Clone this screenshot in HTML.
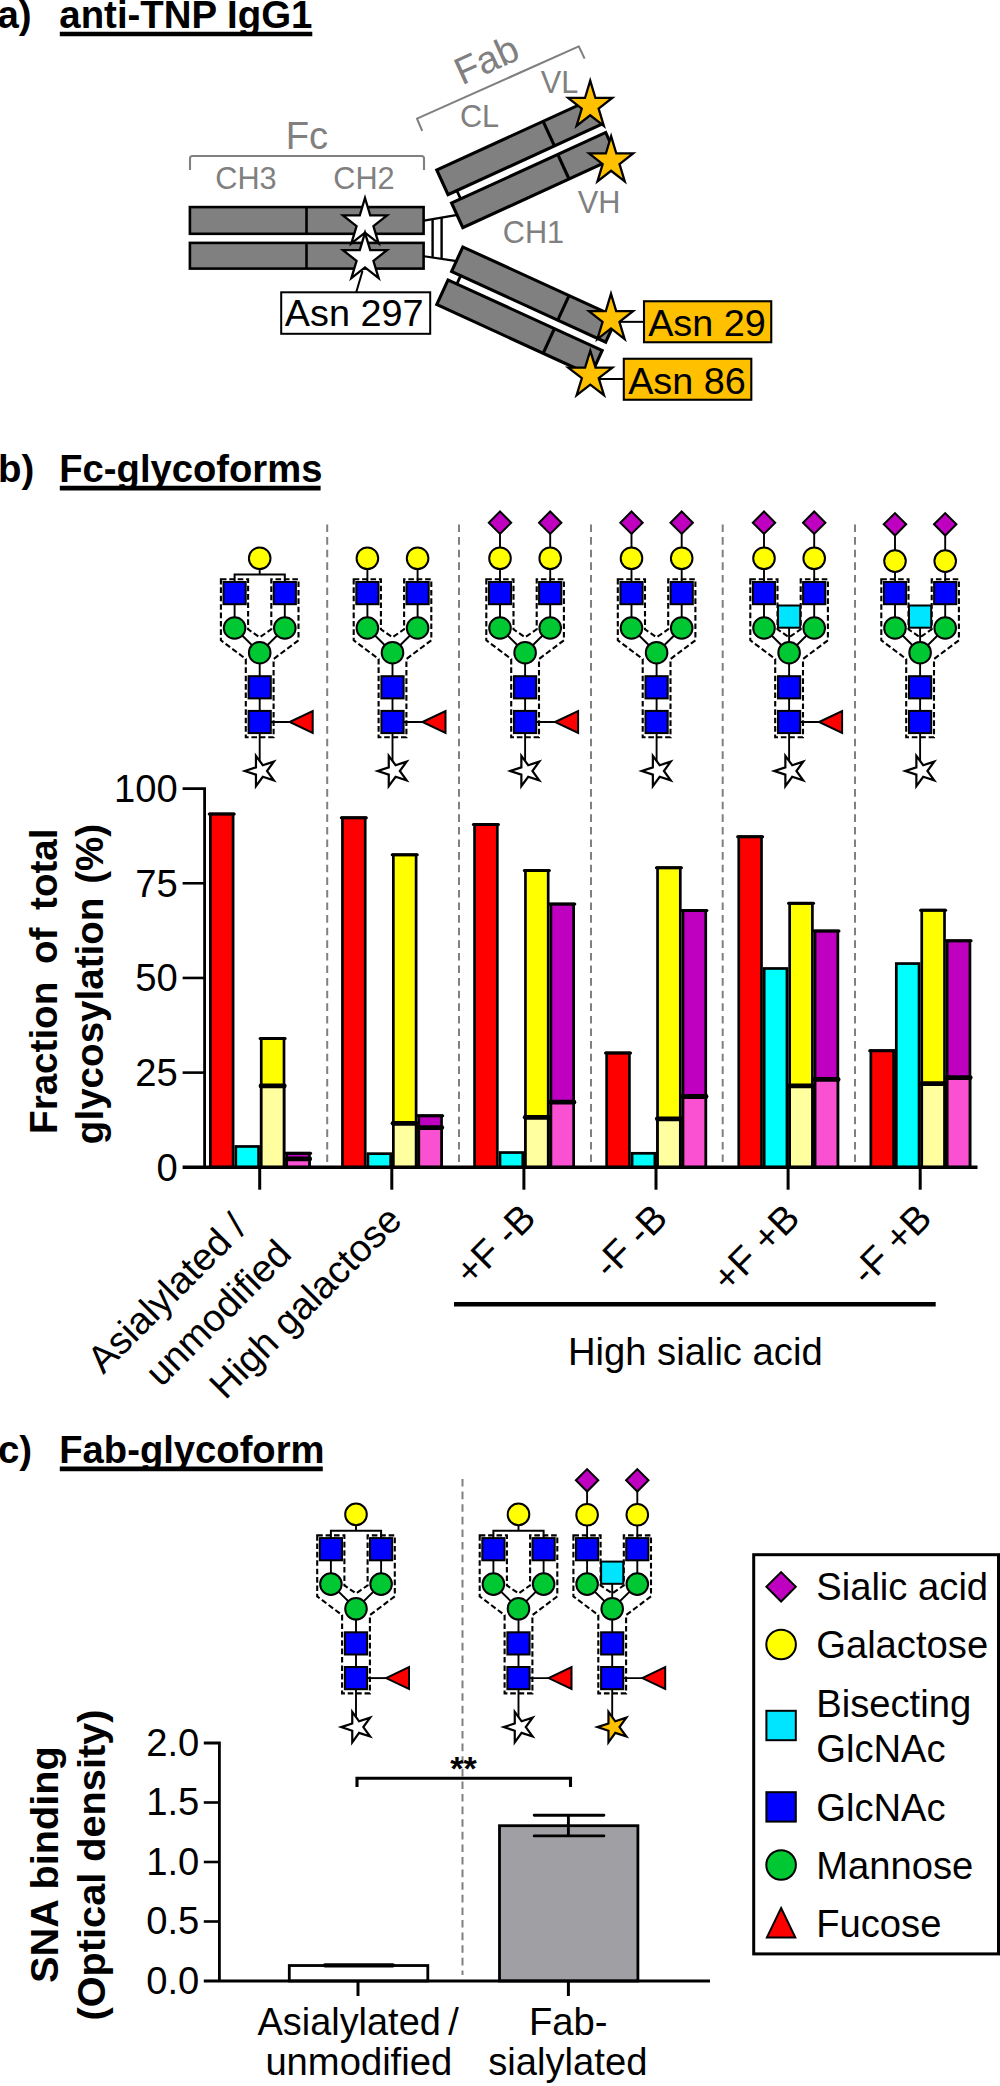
<!DOCTYPE html>
<html lang="en"><head><meta charset="utf-8"><title>IgG glycoforms</title>
<style>html,body{margin:0;padding:0;background:#fff}body{width:1000px;height:2086px;overflow:hidden}svg{display:block;font-family:"Liberation Sans", sans-serif}text{white-space:pre}</style></head><body>
<svg width="1000" height="2086" viewBox="0 0 1000 2086" role="img" aria-label="IgG glycoform figure">
<rect x="0" y="0" width="1000" height="2086" fill="#fff"/>
<g id="panel-a">
<text x="-2.5" y="28.1" font-size="38.4" text-anchor="start" font-weight="bold" fill="#000">a)</text>
<text x="59.3" y="28.1" font-size="38.4" text-anchor="start" font-weight="bold" fill="#000">anti-TNP IgG1</text>
<line x1="59.8" y1="34" x2="312.3" y2="34" stroke="#000" stroke-width="4.4"/>
<path d="M190,170 V158.5 Q190,156 192.5,156 H421.5 Q424,156 424,158.5 V170" fill="none" stroke="#808080" stroke-width="2.1"/>
<text x="307" y="149" font-size="38.2" text-anchor="middle" font-weight="normal" fill="#808080">Fc</text>
<text x="246" y="188.5" font-size="30.7" text-anchor="middle" font-weight="normal" fill="#808080">CH3</text>
<text x="364" y="188.5" font-size="30.7" text-anchor="middle" font-weight="normal" fill="#808080">CH2</text>
<g stroke="#000" fill="none">
<line x1="424" y1="220.6" x2="456" y2="215.1" stroke-width="2.1"/>
<line x1="424" y1="256.2" x2="455" y2="260.9" stroke-width="2.1"/>
<line x1="432.6" y1="219.5" x2="432.6" y2="257.3" stroke-width="2.4"/>
<line x1="441.6" y1="218" x2="441.6" y2="258.7" stroke-width="2.4"/>
</g>
<g fill="#808080" stroke="#000" stroke-width="2.6">
<rect x="189.9" y="207.1" width="233.7" height="26.7"/>
<rect x="189.9" y="242.9" width="233.7" height="25.7"/>
<line x1="306.5" y1="207.1" x2="306.5" y2="233.8"/>
<line x1="306.5" y1="242.9" x2="306.5" y2="268.6"/>
</g>
<g transform="translate(436.76,170) rotate(-24.6)">
<line x1="9.7" y1="27" x2="9.7" y2="36.3" stroke="#000" stroke-width="2.8"/>
<g fill="#808080" stroke="#000" stroke-width="3.1">
<rect x="0" y="0" width="169.5" height="27.1"/>
<line x1="117" y1="0" x2="117" y2="27.1"/>
<rect x="-0.3" y="36.25" width="169.5" height="27"/>
<line x1="116.5" y1="36.25" x2="116.5" y2="63.25"/>
</g>
</g>
<g transform="translate(0,474.6) scale(1,-1)"><g transform="translate(436.76,170) rotate(-24.6)">
<line x1="9.7" y1="27" x2="9.7" y2="36.3" stroke="#000" stroke-width="2.8"/>
<g fill="#808080" stroke="#000" stroke-width="3.1">
<rect x="0" y="0" width="169.5" height="27.1"/>
<line x1="117" y1="0" x2="117" y2="27.1"/>
<rect x="-0.3" y="36.25" width="169.5" height="27"/>
<line x1="116.5" y1="36.25" x2="116.5" y2="63.25"/>
</g>
</g></g>
<path d="M422.2,130.8 L417,118.6 L578.8,46.4 L584.6,58.6" fill="none" stroke="#808080" stroke-width="2.1" stroke-linejoin="round"/>
<text transform="translate(491.8,71.8) rotate(-24.6)" font-size="38.2" text-anchor="middle" fill="#808080">Fab</text>
<text x="479.5" y="126.5" font-size="30.7" text-anchor="middle" font-weight="normal" fill="#808080">CL</text>
<text x="559.5" y="93" font-size="30.7" text-anchor="middle" font-weight="normal" fill="#808080">VL</text>
<text x="599" y="213" font-size="30.7" text-anchor="middle" font-weight="normal" fill="#808080">VH</text>
<text x="533.5" y="242.5" font-size="30.7" text-anchor="middle" font-weight="normal" fill="#808080">CH1</text>
<line x1="362.5" y1="271" x2="356" y2="293" stroke="#000" stroke-width="2"/>
<rect x="281.2" y="292.3" width="149" height="41.5" fill="#fff" stroke="#000" stroke-width="2"/>
<text x="354.2" y="326.2" font-size="37.8" text-anchor="middle" font-weight="normal" fill="#000">Asn 297</text>
<polygon points="365,198.04 370.21,215.36 387.06,215.36 373.43,226.06 378.64,243.37 365,232.67 351.36,243.37 356.57,226.06 342.94,215.36 359.79,215.36" fill="#fff" stroke="#000" stroke-width="2.3" stroke-linejoin="miter" stroke-miterlimit="10"/>
<polygon points="365,232.84 370.21,250.16 387.06,250.16 373.43,260.86 378.64,278.17 365,267.47 351.36,278.17 356.57,260.86 342.94,250.16 359.79,250.16" fill="#fff" stroke="#000" stroke-width="2.3" stroke-linejoin="miter" stroke-miterlimit="10"/>
<line x1="618" y1="321.85" x2="644" y2="321.85" stroke="#000" stroke-width="2"/>
<line x1="598" y1="379" x2="624" y2="379" stroke="#000" stroke-width="2"/>
<rect x="644" y="301.25" width="127.25" height="41" fill="#FFC000" stroke="#000" stroke-width="2.1"/>
<rect x="623.8" y="358.75" width="127.5" height="41" fill="#FFC000" stroke="#000" stroke-width="2.1"/>
<text x="707" y="336.4" font-size="37.8" text-anchor="middle" font-weight="normal" fill="#000">Asn 29</text>
<text x="687" y="393.9" font-size="37.8" text-anchor="middle" font-weight="normal" fill="#000">Asn 86</text>
<polygon points="590.2,80.64 595.41,97.96 612.26,97.96 598.63,108.66 603.84,125.97 590.2,115.27 576.56,125.97 581.77,108.66 568.14,97.96 584.99,97.96" fill="#FFC000" stroke="#000" stroke-width="2.3" stroke-linejoin="miter" stroke-miterlimit="10"/>
<polygon points="611.1,136.14 616.31,153.46 633.16,153.46 619.53,164.16 624.74,181.47 611.1,170.77 597.46,181.47 602.67,164.16 589.04,153.46 605.89,153.46" fill="#FFC000" stroke="#000" stroke-width="2.3" stroke-linejoin="miter" stroke-miterlimit="10"/>
<polygon points="611,293.84 616.21,311.16 633.06,311.16 619.43,321.86 624.64,339.17 611,328.47 597.36,339.17 602.57,321.86 588.94,311.16 605.79,311.16" fill="#FFC000" stroke="#000" stroke-width="2.3" stroke-linejoin="miter" stroke-miterlimit="10"/>
<polygon points="590.3,350.61 595.51,367.6 612.36,367.6 598.73,378.1 603.94,395.1 590.3,384.59 576.66,395.1 581.87,378.1 568.24,367.6 585.09,367.6" fill="#FFC000" stroke="#000" stroke-width="2.3" stroke-linejoin="miter" stroke-miterlimit="10"/>
</g>
<g id="panel-b">
<text x="-2" y="482" font-size="38.4" text-anchor="start" font-weight="bold" fill="#000">b)</text>
<text x="59.3" y="482" font-size="38.2" text-anchor="start" font-weight="bold" fill="#000">Fc-glycoforms</text>
<line x1="59.8" y1="488.1" x2="320.6" y2="488.1" stroke="#000" stroke-width="4.6"/>
<line x1="327.2" y1="524.5" x2="327.2" y2="1162" stroke="#808080" stroke-width="2" stroke-dasharray="7.6 5"/>
<line x1="459" y1="524.5" x2="459" y2="1162" stroke="#808080" stroke-width="2" stroke-dasharray="7.6 5"/>
<line x1="591" y1="524.5" x2="591" y2="1162" stroke="#808080" stroke-width="2" stroke-dasharray="7.6 5"/>
<line x1="722.7" y1="524.5" x2="722.7" y2="1162" stroke="#808080" stroke-width="2" stroke-dasharray="7.6 5"/>
<line x1="855" y1="524.5" x2="855" y2="1162" stroke="#808080" stroke-width="2" stroke-dasharray="7.6 5"/>
<g>
<path d="M220.9,579.3 H248.1 V629.3 L259.7,637.3 L271.3,629.3 V579.3 H298.5 V640.3 L273.6,659 V737.3 H245.8 V659 L220.9,640.3 Z" fill="none" stroke="#000" stroke-width="2.1" stroke-dasharray="5.6 2.8"/>
<line x1="259.7" y1="558.3" x2="259.7" y2="574.6" stroke="#000" stroke-width="1.9"/>
<path d="M234.6,593.1 V574.6 H284.8 V593.1" fill="none" stroke="#000" stroke-width="2"/>
<line x1="234.6" y1="593.1" x2="234.6" y2="628" stroke="#000" stroke-width="1.9"/>
<line x1="284.8" y1="593.1" x2="284.8" y2="628" stroke="#000" stroke-width="1.9"/>
<line x1="234.6" y1="628" x2="259.7" y2="652.7" stroke="#000" stroke-width="1.9"/>
<line x1="284.8" y1="628" x2="259.7" y2="652.7" stroke="#000" stroke-width="1.9"/>
<line x1="259.7" y1="652.7" x2="259.7" y2="763.8" stroke="#000" stroke-width="1.9"/>
<line x1="259.7" y1="722" x2="291.7" y2="722" stroke="#000" stroke-width="1.9"/>
<circle cx="259.7" cy="558.3" r="10.8" fill="#FFFF00" stroke="#000" stroke-width="2"/>
<rect x="223.5" y="582" width="22.2" height="22.2" fill="#0000FF" stroke="#000" stroke-width="2"/>
<rect x="273.7" y="582" width="22.2" height="22.2" fill="#0000FF" stroke="#000" stroke-width="2"/>
<circle cx="234.6" cy="628" r="10.8" fill="#00C832" stroke="#000" stroke-width="2"/>
<circle cx="284.8" cy="628" r="10.8" fill="#00C832" stroke="#000" stroke-width="2"/>
<circle cx="259.7" cy="652.7" r="10.8" fill="#00C832" stroke="#000" stroke-width="2"/>
<rect x="248.6" y="676.2" width="22.2" height="22.2" fill="#0000FF" stroke="#000" stroke-width="2"/>
<rect x="248.6" y="710.9" width="22.2" height="22.2" fill="#0000FF" stroke="#000" stroke-width="2"/>
<polygon points="289.7,722 312.7,711.1 312.7,732.9" fill="#FF0000" stroke="#000" stroke-width="2"/>
<polygon points="255.96,755.78 262.79,765.19 273.84,761.6 267.01,771 273.84,780.4 262.79,776.81 255.96,786.22 255.96,774.59 244.9,771 255.96,767.41" fill="#fff" stroke="#000" stroke-width="2.2" stroke-linejoin="miter" stroke-miterlimit="10"/>
</g>
<g>
<path d="M353.7,579.3 H380.9 V629.3 L392.5,637.3 L404.1,629.3 V579.3 H431.3 V640.3 L406.4,659 V737.3 H378.6 V659 L353.7,640.3 Z" fill="none" stroke="#000" stroke-width="2.1" stroke-dasharray="5.6 2.8"/>
<line x1="367.4" y1="558.3" x2="367.4" y2="628" stroke="#000" stroke-width="1.9"/>
<line x1="417.6" y1="558.3" x2="417.6" y2="628" stroke="#000" stroke-width="1.9"/>
<line x1="367.4" y1="628" x2="392.5" y2="652.7" stroke="#000" stroke-width="1.9"/>
<line x1="417.6" y1="628" x2="392.5" y2="652.7" stroke="#000" stroke-width="1.9"/>
<line x1="392.5" y1="652.7" x2="392.5" y2="763.8" stroke="#000" stroke-width="1.9"/>
<line x1="392.5" y1="722" x2="424.5" y2="722" stroke="#000" stroke-width="1.9"/>
<circle cx="367.4" cy="558.3" r="10.8" fill="#FFFF00" stroke="#000" stroke-width="2"/>
<circle cx="417.6" cy="558.3" r="10.8" fill="#FFFF00" stroke="#000" stroke-width="2"/>
<rect x="356.3" y="582" width="22.2" height="22.2" fill="#0000FF" stroke="#000" stroke-width="2"/>
<rect x="406.5" y="582" width="22.2" height="22.2" fill="#0000FF" stroke="#000" stroke-width="2"/>
<circle cx="367.4" cy="628" r="10.8" fill="#00C832" stroke="#000" stroke-width="2"/>
<circle cx="417.6" cy="628" r="10.8" fill="#00C832" stroke="#000" stroke-width="2"/>
<circle cx="392.5" cy="652.7" r="10.8" fill="#00C832" stroke="#000" stroke-width="2"/>
<rect x="381.4" y="676.2" width="22.2" height="22.2" fill="#0000FF" stroke="#000" stroke-width="2"/>
<rect x="381.4" y="710.9" width="22.2" height="22.2" fill="#0000FF" stroke="#000" stroke-width="2"/>
<polygon points="422.5,722 445.5,711.1 445.5,732.9" fill="#FF0000" stroke="#000" stroke-width="2"/>
<polygon points="388.76,755.78 395.59,765.19 406.64,761.6 399.81,771 406.64,780.4 395.59,776.81 388.76,786.22 388.76,774.59 377.7,771 388.76,767.41" fill="#fff" stroke="#000" stroke-width="2.2" stroke-linejoin="miter" stroke-miterlimit="10"/>
</g>
<g>
<path d="M486.3,579.3 H513.5 V629.3 L525.1,637.3 L536.7,629.3 V579.3 H563.9 V640.3 L539,659 V737.3 H511.2 V659 L486.3,640.3 Z" fill="none" stroke="#000" stroke-width="2.1" stroke-dasharray="5.6 2.8"/>
<line x1="500" y1="522.7" x2="500" y2="628" stroke="#000" stroke-width="1.9"/>
<line x1="550.2" y1="522.7" x2="550.2" y2="628" stroke="#000" stroke-width="1.9"/>
<line x1="500" y1="628" x2="525.1" y2="652.7" stroke="#000" stroke-width="1.9"/>
<line x1="550.2" y1="628" x2="525.1" y2="652.7" stroke="#000" stroke-width="1.9"/>
<line x1="525.1" y1="652.7" x2="525.1" y2="763.8" stroke="#000" stroke-width="1.9"/>
<line x1="525.1" y1="722" x2="557.1" y2="722" stroke="#000" stroke-width="1.9"/>
<polygon points="500,511.5 511.2,522.7 500,533.9 488.8,522.7" fill="#C000C0" stroke="#000" stroke-width="2"/>
<polygon points="550.2,511.5 561.4,522.7 550.2,533.9 539,522.7" fill="#C000C0" stroke="#000" stroke-width="2"/>
<circle cx="500" cy="558.3" r="10.8" fill="#FFFF00" stroke="#000" stroke-width="2"/>
<circle cx="550.2" cy="558.3" r="10.8" fill="#FFFF00" stroke="#000" stroke-width="2"/>
<rect x="488.9" y="582" width="22.2" height="22.2" fill="#0000FF" stroke="#000" stroke-width="2"/>
<rect x="539.1" y="582" width="22.2" height="22.2" fill="#0000FF" stroke="#000" stroke-width="2"/>
<circle cx="500" cy="628" r="10.8" fill="#00C832" stroke="#000" stroke-width="2"/>
<circle cx="550.2" cy="628" r="10.8" fill="#00C832" stroke="#000" stroke-width="2"/>
<circle cx="525.1" cy="652.7" r="10.8" fill="#00C832" stroke="#000" stroke-width="2"/>
<rect x="514" y="676.2" width="22.2" height="22.2" fill="#0000FF" stroke="#000" stroke-width="2"/>
<rect x="514" y="710.9" width="22.2" height="22.2" fill="#0000FF" stroke="#000" stroke-width="2"/>
<polygon points="555.1,722 578.1,711.1 578.1,732.9" fill="#FF0000" stroke="#000" stroke-width="2"/>
<polygon points="521.36,755.78 528.19,765.19 539.24,761.6 532.41,771 539.24,780.4 528.19,776.81 521.36,786.22 521.36,774.59 510.3,771 521.36,767.41" fill="#fff" stroke="#000" stroke-width="2.2" stroke-linejoin="miter" stroke-miterlimit="10"/>
</g>
<g>
<path d="M617.8,579.3 H645 V629.3 L656.6,637.3 L668.2,629.3 V579.3 H695.4 V640.3 L670.5,659 V737.3 H642.7 V659 L617.8,640.3 Z" fill="none" stroke="#000" stroke-width="2.1" stroke-dasharray="5.6 2.8"/>
<line x1="631.5" y1="522.7" x2="631.5" y2="628" stroke="#000" stroke-width="1.9"/>
<line x1="681.7" y1="522.7" x2="681.7" y2="628" stroke="#000" stroke-width="1.9"/>
<line x1="631.5" y1="628" x2="656.6" y2="652.7" stroke="#000" stroke-width="1.9"/>
<line x1="681.7" y1="628" x2="656.6" y2="652.7" stroke="#000" stroke-width="1.9"/>
<line x1="656.6" y1="652.7" x2="656.6" y2="763.8" stroke="#000" stroke-width="1.9"/>
<polygon points="631.5,511.5 642.7,522.7 631.5,533.9 620.3,522.7" fill="#C000C0" stroke="#000" stroke-width="2"/>
<polygon points="681.7,511.5 692.9,522.7 681.7,533.9 670.5,522.7" fill="#C000C0" stroke="#000" stroke-width="2"/>
<circle cx="631.5" cy="558.3" r="10.8" fill="#FFFF00" stroke="#000" stroke-width="2"/>
<circle cx="681.7" cy="558.3" r="10.8" fill="#FFFF00" stroke="#000" stroke-width="2"/>
<rect x="620.4" y="582" width="22.2" height="22.2" fill="#0000FF" stroke="#000" stroke-width="2"/>
<rect x="670.6" y="582" width="22.2" height="22.2" fill="#0000FF" stroke="#000" stroke-width="2"/>
<circle cx="631.5" cy="628" r="10.8" fill="#00C832" stroke="#000" stroke-width="2"/>
<circle cx="681.7" cy="628" r="10.8" fill="#00C832" stroke="#000" stroke-width="2"/>
<circle cx="656.6" cy="652.7" r="10.8" fill="#00C832" stroke="#000" stroke-width="2"/>
<rect x="645.5" y="676.2" width="22.2" height="22.2" fill="#0000FF" stroke="#000" stroke-width="2"/>
<rect x="645.5" y="710.9" width="22.2" height="22.2" fill="#0000FF" stroke="#000" stroke-width="2"/>
<polygon points="652.86,755.78 659.69,765.19 670.74,761.6 663.91,771 670.74,780.4 659.69,776.81 652.86,786.22 652.86,774.59 641.8,771 652.86,767.41" fill="#fff" stroke="#000" stroke-width="2.2" stroke-linejoin="miter" stroke-miterlimit="10"/>
</g>
<g>
<path d="M750.3,579.3 H777.5 V629.3 L789.1,637.3 L800.7,629.3 V579.3 H827.9 V640.3 L803,659 V737.3 H775.2 V659 L750.3,640.3 Z" fill="none" stroke="#000" stroke-width="2.1" stroke-dasharray="5.6 2.8"/>
<line x1="764" y1="522.7" x2="764" y2="628" stroke="#000" stroke-width="1.9"/>
<line x1="814.2" y1="522.7" x2="814.2" y2="628" stroke="#000" stroke-width="1.9"/>
<line x1="764" y1="628" x2="789.1" y2="652.7" stroke="#000" stroke-width="1.9"/>
<line x1="814.2" y1="628" x2="789.1" y2="652.7" stroke="#000" stroke-width="1.9"/>
<line x1="789.1" y1="616.6" x2="789.1" y2="652.7" stroke="#000" stroke-width="1.9"/>
<line x1="789.1" y1="652.7" x2="789.1" y2="763.8" stroke="#000" stroke-width="1.9"/>
<line x1="789.1" y1="722" x2="821.1" y2="722" stroke="#000" stroke-width="1.9"/>
<polygon points="764,511.5 775.2,522.7 764,533.9 752.8,522.7" fill="#C000C0" stroke="#000" stroke-width="2"/>
<polygon points="814.2,511.5 825.4,522.7 814.2,533.9 803,522.7" fill="#C000C0" stroke="#000" stroke-width="2"/>
<circle cx="764" cy="558.3" r="10.8" fill="#FFFF00" stroke="#000" stroke-width="2"/>
<circle cx="814.2" cy="558.3" r="10.8" fill="#FFFF00" stroke="#000" stroke-width="2"/>
<rect x="752.9" y="582" width="22.2" height="22.2" fill="#0000FF" stroke="#000" stroke-width="2"/>
<rect x="803.1" y="582" width="22.2" height="22.2" fill="#0000FF" stroke="#000" stroke-width="2"/>
<circle cx="764" cy="628" r="10.8" fill="#00C832" stroke="#000" stroke-width="2"/>
<circle cx="814.2" cy="628" r="10.8" fill="#00C832" stroke="#000" stroke-width="2"/>
<rect x="778" y="605.5" width="22.2" height="22.2" fill="#00E5FF" stroke="#000" stroke-width="2"/>
<circle cx="789.1" cy="652.7" r="10.8" fill="#00C832" stroke="#000" stroke-width="2"/>
<rect x="778" y="676.2" width="22.2" height="22.2" fill="#0000FF" stroke="#000" stroke-width="2"/>
<rect x="778" y="710.9" width="22.2" height="22.2" fill="#0000FF" stroke="#000" stroke-width="2"/>
<polygon points="819.1,722 842.1,711.1 842.1,732.9" fill="#FF0000" stroke="#000" stroke-width="2"/>
<polygon points="785.36,755.78 792.19,765.19 803.24,761.6 796.41,771 803.24,780.4 792.19,776.81 785.36,786.22 785.36,774.59 774.3,771 785.36,767.41" fill="#fff" stroke="#000" stroke-width="2.2" stroke-linejoin="miter" stroke-miterlimit="10"/>
</g>
<g>
<path d="M881.3,579.3 H908.5 V629.3 L920.1,637.3 L931.7,629.3 V579.3 H958.9 V640.3 L934,659 V737.3 H906.2 V659 L881.3,640.3 Z" fill="none" stroke="#000" stroke-width="2.1" stroke-dasharray="5.6 2.8"/>
<line x1="895" y1="524.3" x2="895" y2="628" stroke="#000" stroke-width="1.9"/>
<line x1="945.2" y1="524.3" x2="945.2" y2="628" stroke="#000" stroke-width="1.9"/>
<line x1="895" y1="628" x2="920.1" y2="652.7" stroke="#000" stroke-width="1.9"/>
<line x1="945.2" y1="628" x2="920.1" y2="652.7" stroke="#000" stroke-width="1.9"/>
<line x1="920.1" y1="616.6" x2="920.1" y2="652.7" stroke="#000" stroke-width="1.9"/>
<line x1="920.1" y1="652.7" x2="920.1" y2="763.8" stroke="#000" stroke-width="1.9"/>
<polygon points="895,513.1 906.2,524.3 895,535.5 883.8,524.3" fill="#C000C0" stroke="#000" stroke-width="2"/>
<polygon points="945.2,513.1 956.4,524.3 945.2,535.5 934,524.3" fill="#C000C0" stroke="#000" stroke-width="2"/>
<circle cx="895" cy="561.1" r="10.8" fill="#FFFF00" stroke="#000" stroke-width="2"/>
<circle cx="945.2" cy="561.1" r="10.8" fill="#FFFF00" stroke="#000" stroke-width="2"/>
<rect x="883.9" y="582" width="22.2" height="22.2" fill="#0000FF" stroke="#000" stroke-width="2"/>
<rect x="934.1" y="582" width="22.2" height="22.2" fill="#0000FF" stroke="#000" stroke-width="2"/>
<circle cx="895" cy="628" r="10.8" fill="#00C832" stroke="#000" stroke-width="2"/>
<circle cx="945.2" cy="628" r="10.8" fill="#00C832" stroke="#000" stroke-width="2"/>
<rect x="909" y="605.5" width="22.2" height="22.2" fill="#00E5FF" stroke="#000" stroke-width="2"/>
<circle cx="920.1" cy="652.7" r="10.8" fill="#00C832" stroke="#000" stroke-width="2"/>
<rect x="909" y="676.2" width="22.2" height="22.2" fill="#0000FF" stroke="#000" stroke-width="2"/>
<rect x="909" y="710.9" width="22.2" height="22.2" fill="#0000FF" stroke="#000" stroke-width="2"/>
<polygon points="916.36,755.78 923.19,765.19 934.24,761.6 927.41,771 934.24,780.4 923.19,776.81 916.36,786.22 916.36,774.59 905.3,771 916.36,767.41" fill="#fff" stroke="#000" stroke-width="2.2" stroke-linejoin="miter" stroke-miterlimit="10"/>
</g>
<rect x="210.35" y="813.97" width="22.75" height="353.33" fill="#FF0000" stroke="#000" stroke-width="2.7"/>
<rect x="235.8" y="1146.47" width="22.75" height="20.83" fill="#00FFFF" stroke="#000" stroke-width="2.7"/>
<rect x="261.25" y="1038.54" width="22.75" height="128.76" fill="#FFFF00" stroke="#000" stroke-width="2.7"/>
<rect x="261.25" y="1085.88" width="22.75" height="81.42" fill="#FFFFA0" stroke="#000" stroke-width="2.7"/>
<rect x="286.7" y="1153.29" width="22.75" height="14.01" fill="#C000C0" stroke="#000" stroke-width="2.7"/>
<rect x="286.7" y="1158.97" width="22.75" height="8.33" fill="#FA50D2" stroke="#000" stroke-width="2.7"/>
<line x1="209.2" y1="813.97" x2="234.25" y2="813.97" stroke="#000" stroke-width="3" stroke-linecap="round"/>
<line x1="260.1" y1="1038.54" x2="285.15" y2="1038.54" stroke="#000" stroke-width="3" stroke-linecap="round"/>
<line x1="261" y1="1085.88" x2="284.25" y2="1085.88" stroke="#000" stroke-width="4.8" stroke-linecap="round"/>
<line x1="285.55" y1="1153.29" x2="310.6" y2="1153.29" stroke="#000" stroke-width="3" stroke-linecap="round"/>
<line x1="286.45" y1="1158.97" x2="309.7" y2="1158.97" stroke="#000" stroke-width="4.8" stroke-linecap="round"/>
<rect x="342.45" y="817.76" width="22.75" height="349.54" fill="#FF0000" stroke="#000" stroke-width="2.7"/>
<rect x="367.9" y="1153.67" width="22.75" height="13.63" fill="#00FFFF" stroke="#000" stroke-width="2.7"/>
<rect x="393.35" y="854.87" width="22.75" height="312.43" fill="#FFFF00" stroke="#000" stroke-width="2.7"/>
<rect x="393.35" y="1123.37" width="22.75" height="43.93" fill="#FFFFA0" stroke="#000" stroke-width="2.7"/>
<rect x="418.8" y="1115.8" width="22.75" height="51.5" fill="#C000C0" stroke="#000" stroke-width="2.7"/>
<rect x="418.8" y="1127.54" width="22.75" height="39.76" fill="#FA50D2" stroke="#000" stroke-width="2.7"/>
<line x1="341.3" y1="817.76" x2="366.35" y2="817.76" stroke="#000" stroke-width="3" stroke-linecap="round"/>
<line x1="392.2" y1="854.87" x2="417.25" y2="854.87" stroke="#000" stroke-width="3" stroke-linecap="round"/>
<line x1="393.1" y1="1123.37" x2="416.35" y2="1123.37" stroke="#000" stroke-width="4.8" stroke-linecap="round"/>
<line x1="417.65" y1="1115.8" x2="442.7" y2="1115.8" stroke="#000" stroke-width="3" stroke-linecap="round"/>
<line x1="418.55" y1="1127.54" x2="441.8" y2="1127.54" stroke="#000" stroke-width="4.8" stroke-linecap="round"/>
<rect x="474.55" y="824.58" width="22.75" height="342.72" fill="#FF0000" stroke="#000" stroke-width="2.7"/>
<rect x="500" y="1152.53" width="22.75" height="14.77" fill="#00FFFF" stroke="#000" stroke-width="2.7"/>
<rect x="525.45" y="870.4" width="22.75" height="296.9" fill="#FFFF00" stroke="#000" stroke-width="2.7"/>
<rect x="525.45" y="1117.31" width="22.75" height="49.99" fill="#FFFFA0" stroke="#000" stroke-width="2.7"/>
<rect x="550.9" y="904.1" width="22.75" height="263.2" fill="#C000C0" stroke="#000" stroke-width="2.7"/>
<rect x="550.9" y="1102.16" width="22.75" height="65.14" fill="#FA50D2" stroke="#000" stroke-width="2.7"/>
<line x1="473.4" y1="824.58" x2="498.45" y2="824.58" stroke="#000" stroke-width="3" stroke-linecap="round"/>
<line x1="524.3" y1="870.4" x2="549.35" y2="870.4" stroke="#000" stroke-width="3" stroke-linecap="round"/>
<line x1="525.2" y1="1117.31" x2="548.45" y2="1117.31" stroke="#000" stroke-width="4.8" stroke-linecap="round"/>
<line x1="549.75" y1="904.1" x2="574.8" y2="904.1" stroke="#000" stroke-width="3" stroke-linecap="round"/>
<line x1="550.65" y1="1102.16" x2="573.9" y2="1102.16" stroke="#000" stroke-width="4.8" stroke-linecap="round"/>
<rect x="606.65" y="1052.93" width="22.75" height="114.37" fill="#FF0000" stroke="#000" stroke-width="2.7"/>
<rect x="632.1" y="1153.29" width="22.75" height="14.01" fill="#00FFFF" stroke="#000" stroke-width="2.7"/>
<rect x="657.55" y="867.75" width="22.75" height="299.55" fill="#FFFF00" stroke="#000" stroke-width="2.7"/>
<rect x="657.55" y="1118.83" width="22.75" height="48.47" fill="#FFFFA0" stroke="#000" stroke-width="2.7"/>
<rect x="683" y="910.54" width="22.75" height="256.76" fill="#C000C0" stroke="#000" stroke-width="2.7"/>
<rect x="683" y="1096.48" width="22.75" height="70.82" fill="#FA50D2" stroke="#000" stroke-width="2.7"/>
<line x1="605.5" y1="1052.93" x2="630.55" y2="1052.93" stroke="#000" stroke-width="3" stroke-linecap="round"/>
<line x1="656.4" y1="867.75" x2="681.45" y2="867.75" stroke="#000" stroke-width="3" stroke-linecap="round"/>
<line x1="657.3" y1="1118.83" x2="680.55" y2="1118.83" stroke="#000" stroke-width="4.8" stroke-linecap="round"/>
<line x1="681.85" y1="910.54" x2="706.9" y2="910.54" stroke="#000" stroke-width="3" stroke-linecap="round"/>
<line x1="682.75" y1="1096.48" x2="706" y2="1096.48" stroke="#000" stroke-width="4.8" stroke-linecap="round"/>
<rect x="738.75" y="836.69" width="22.75" height="330.61" fill="#FF0000" stroke="#000" stroke-width="2.7"/>
<rect x="764.2" y="968.48" width="22.75" height="198.82" fill="#00FFFF" stroke="#000" stroke-width="2.7"/>
<rect x="789.65" y="903.35" width="22.75" height="263.95" fill="#FFFF00" stroke="#000" stroke-width="2.7"/>
<rect x="789.65" y="1085.88" width="22.75" height="81.42" fill="#FFFFA0" stroke="#000" stroke-width="2.7"/>
<rect x="815.1" y="930.99" width="22.75" height="236.31" fill="#C000C0" stroke="#000" stroke-width="2.7"/>
<rect x="815.1" y="1079.44" width="22.75" height="87.86" fill="#FA50D2" stroke="#000" stroke-width="2.7"/>
<line x1="737.6" y1="836.69" x2="762.65" y2="836.69" stroke="#000" stroke-width="3" stroke-linecap="round"/>
<line x1="788.5" y1="903.35" x2="813.55" y2="903.35" stroke="#000" stroke-width="3" stroke-linecap="round"/>
<line x1="789.4" y1="1085.88" x2="812.65" y2="1085.88" stroke="#000" stroke-width="4.8" stroke-linecap="round"/>
<line x1="813.95" y1="930.99" x2="839" y2="930.99" stroke="#000" stroke-width="3" stroke-linecap="round"/>
<line x1="814.85" y1="1079.44" x2="838.1" y2="1079.44" stroke="#000" stroke-width="4.8" stroke-linecap="round"/>
<rect x="870.85" y="1050.66" width="22.75" height="116.64" fill="#FF0000" stroke="#000" stroke-width="2.7"/>
<rect x="896.3" y="963.56" width="22.75" height="203.74" fill="#00FFFF" stroke="#000" stroke-width="2.7"/>
<rect x="921.75" y="910.16" width="22.75" height="257.14" fill="#FFFF00" stroke="#000" stroke-width="2.7"/>
<rect x="921.75" y="1083.61" width="22.75" height="83.69" fill="#FFFFA0" stroke="#000" stroke-width="2.7"/>
<rect x="947.2" y="940.84" width="22.75" height="226.46" fill="#C000C0" stroke="#000" stroke-width="2.7"/>
<rect x="947.2" y="1077.55" width="22.75" height="89.75" fill="#FA50D2" stroke="#000" stroke-width="2.7"/>
<line x1="869.7" y1="1050.66" x2="894.75" y2="1050.66" stroke="#000" stroke-width="3" stroke-linecap="round"/>
<line x1="920.6" y1="910.16" x2="945.65" y2="910.16" stroke="#000" stroke-width="3" stroke-linecap="round"/>
<line x1="921.5" y1="1083.61" x2="944.75" y2="1083.61" stroke="#000" stroke-width="4.8" stroke-linecap="round"/>
<line x1="946.05" y1="940.84" x2="971.1" y2="940.84" stroke="#000" stroke-width="3" stroke-linecap="round"/>
<line x1="946.95" y1="1077.55" x2="970.2" y2="1077.55" stroke="#000" stroke-width="4.8" stroke-linecap="round"/>
<g stroke="#000" fill="none">
<path d="M182.6,788.6 H204.6 V1167.3" stroke-width="2.8"/>
<line x1="182.6" y1="1167.3" x2="977.5" y2="1167.3" stroke-width="3.4"/>
<line x1="182.6" y1="1072.62" x2="204.6" y2="1072.62" stroke-width="2.6"/>
<line x1="182.6" y1="977.95" x2="204.6" y2="977.95" stroke-width="2.6"/>
<line x1="182.6" y1="883.27" x2="204.6" y2="883.27" stroke-width="2.6"/>
<line x1="259.7" y1="1167.3" x2="259.7" y2="1189.7" stroke-width="3"/>
<line x1="391.8" y1="1167.3" x2="391.8" y2="1189.7" stroke-width="3"/>
<line x1="523.9" y1="1167.3" x2="523.9" y2="1189.7" stroke-width="3"/>
<line x1="656" y1="1167.3" x2="656" y2="1189.7" stroke-width="3"/>
<line x1="788.1" y1="1167.3" x2="788.1" y2="1189.7" stroke-width="3"/>
<line x1="920.2" y1="1167.3" x2="920.2" y2="1189.7" stroke-width="3"/>
</g>
<text x="177.8" y="1180.6" font-size="38.2" text-anchor="end" font-weight="normal" fill="#000">0</text>
<text x="177.8" y="1085.92" font-size="38.2" text-anchor="end" font-weight="normal" fill="#000">25</text>
<text x="177.8" y="991.25" font-size="38.2" text-anchor="end" font-weight="normal" fill="#000">50</text>
<text x="177.8" y="896.57" font-size="38.2" text-anchor="end" font-weight="normal" fill="#000">75</text>
<text x="177.8" y="801.9" font-size="38.2" text-anchor="end" font-weight="normal" fill="#000">100</text>
<text transform="translate(56.5,981.2) rotate(-90)" font-size="38.6" font-weight="bold" text-anchor="middle" word-spacing="7">Fraction of total</text>
<text transform="translate(102.6,984) rotate(-90)" font-size="38.6" font-weight="bold" text-anchor="middle" word-spacing="3">glycosylation (%)</text>
<text transform="translate(248.8,1229.5) rotate(-45)" font-size="38.2" text-anchor="end">Asialylated /</text>
<text transform="translate(293.4,1255.9) rotate(-45)" font-size="38.2" text-anchor="end">unmodified</text>
<text transform="translate(403.8,1222.2) rotate(-45)" font-size="38.2" text-anchor="end">High galactose</text>
<text transform="translate(537.7,1220.2) rotate(-45)" font-size="38.2" text-anchor="end">+F -B</text>
<text transform="translate(669.5,1220.2) rotate(-45)" font-size="38.2" text-anchor="end">-F -B</text>
<text transform="translate(801.7,1220.2) rotate(-45)" font-size="38.2" text-anchor="end">+F +B</text>
<text transform="translate(933.7,1220.2) rotate(-45)" font-size="38.2" text-anchor="end">-F +B</text>
<line x1="454" y1="1304.3" x2="935.7" y2="1304.3" stroke="#000" stroke-width="4.6"/>
<text x="695.3" y="1365" font-size="38.2" text-anchor="middle" font-weight="normal" fill="#000">High sialic acid</text>
</g>
<g id="panel-c">
<text x="-2" y="1463" font-size="38.4" text-anchor="start" font-weight="bold" fill="#000">c)</text>
<text x="59.3" y="1463" font-size="38.2" text-anchor="start" font-weight="bold" fill="#000">Fab-glycoform</text>
<line x1="59.8" y1="1468.9" x2="322.8" y2="1468.9" stroke="#000" stroke-width="4.6"/>
<line x1="462.5" y1="1479" x2="462.5" y2="1975" stroke="#808080" stroke-width="2" stroke-dasharray="7.6 5"/>
<g>
<path d="M317.2,1535.4 H344.4 V1585.4 L356,1593.4 L367.6,1585.4 V1535.4 H394.8 V1596.4 L369.9,1615.1 V1693.4 H342.1 V1615.1 L317.2,1596.4 Z" fill="none" stroke="#000" stroke-width="2.1" stroke-dasharray="5.6 2.8"/>
<line x1="356" y1="1514.4" x2="356" y2="1530.7" stroke="#000" stroke-width="1.9"/>
<path d="M330.9,1549.2 V1530.7 H381.1 V1549.2" fill="none" stroke="#000" stroke-width="2"/>
<line x1="330.9" y1="1549.2" x2="330.9" y2="1584.1" stroke="#000" stroke-width="1.9"/>
<line x1="381.1" y1="1549.2" x2="381.1" y2="1584.1" stroke="#000" stroke-width="1.9"/>
<line x1="330.9" y1="1584.1" x2="356" y2="1608.8" stroke="#000" stroke-width="1.9"/>
<line x1="381.1" y1="1584.1" x2="356" y2="1608.8" stroke="#000" stroke-width="1.9"/>
<line x1="356" y1="1608.8" x2="356" y2="1719.9" stroke="#000" stroke-width="1.9"/>
<line x1="356" y1="1678.1" x2="388" y2="1678.1" stroke="#000" stroke-width="1.9"/>
<circle cx="356" cy="1514.4" r="10.8" fill="#FFFF00" stroke="#000" stroke-width="2"/>
<rect x="319.8" y="1538.1" width="22.2" height="22.2" fill="#0000FF" stroke="#000" stroke-width="2"/>
<rect x="370" y="1538.1" width="22.2" height="22.2" fill="#0000FF" stroke="#000" stroke-width="2"/>
<circle cx="330.9" cy="1584.1" r="10.8" fill="#00C832" stroke="#000" stroke-width="2"/>
<circle cx="381.1" cy="1584.1" r="10.8" fill="#00C832" stroke="#000" stroke-width="2"/>
<circle cx="356" cy="1608.8" r="10.8" fill="#00C832" stroke="#000" stroke-width="2"/>
<rect x="344.9" y="1632.3" width="22.2" height="22.2" fill="#0000FF" stroke="#000" stroke-width="2"/>
<rect x="344.9" y="1667" width="22.2" height="22.2" fill="#0000FF" stroke="#000" stroke-width="2"/>
<polygon points="386,1678.1 409,1667.2 409,1689" fill="#FF0000" stroke="#000" stroke-width="2"/>
<polygon points="352.26,1711.88 359.09,1721.29 370.14,1717.7 363.31,1727.1 370.14,1736.5 359.09,1732.91 352.26,1742.32 352.26,1730.69 341.2,1727.1 352.26,1723.51" fill="#fff" stroke="#000" stroke-width="2.2" stroke-linejoin="miter" stroke-miterlimit="10"/>
</g>
<g>
<path d="M479.7,1535.4 H506.9 V1585.4 L518.5,1593.4 L530.1,1585.4 V1535.4 H557.3 V1596.4 L532.4,1615.1 V1693.4 H504.6 V1615.1 L479.7,1596.4 Z" fill="none" stroke="#000" stroke-width="2.1" stroke-dasharray="5.6 2.8"/>
<line x1="518.5" y1="1514.4" x2="518.5" y2="1530.7" stroke="#000" stroke-width="1.9"/>
<path d="M493.4,1549.2 V1530.7 H543.6 V1549.2" fill="none" stroke="#000" stroke-width="2"/>
<line x1="493.4" y1="1549.2" x2="493.4" y2="1584.1" stroke="#000" stroke-width="1.9"/>
<line x1="543.6" y1="1549.2" x2="543.6" y2="1584.1" stroke="#000" stroke-width="1.9"/>
<line x1="493.4" y1="1584.1" x2="518.5" y2="1608.8" stroke="#000" stroke-width="1.9"/>
<line x1="543.6" y1="1584.1" x2="518.5" y2="1608.8" stroke="#000" stroke-width="1.9"/>
<line x1="518.5" y1="1608.8" x2="518.5" y2="1719.9" stroke="#000" stroke-width="1.9"/>
<line x1="518.5" y1="1678.1" x2="550.5" y2="1678.1" stroke="#000" stroke-width="1.9"/>
<circle cx="518.5" cy="1514.4" r="10.8" fill="#FFFF00" stroke="#000" stroke-width="2"/>
<rect x="482.3" y="1538.1" width="22.2" height="22.2" fill="#0000FF" stroke="#000" stroke-width="2"/>
<rect x="532.5" y="1538.1" width="22.2" height="22.2" fill="#0000FF" stroke="#000" stroke-width="2"/>
<circle cx="493.4" cy="1584.1" r="10.8" fill="#00C832" stroke="#000" stroke-width="2"/>
<circle cx="543.6" cy="1584.1" r="10.8" fill="#00C832" stroke="#000" stroke-width="2"/>
<circle cx="518.5" cy="1608.8" r="10.8" fill="#00C832" stroke="#000" stroke-width="2"/>
<rect x="507.4" y="1632.3" width="22.2" height="22.2" fill="#0000FF" stroke="#000" stroke-width="2"/>
<rect x="507.4" y="1667" width="22.2" height="22.2" fill="#0000FF" stroke="#000" stroke-width="2"/>
<polygon points="548.5,1678.1 571.5,1667.2 571.5,1689" fill="#FF0000" stroke="#000" stroke-width="2"/>
<polygon points="514.76,1711.88 521.59,1721.29 532.64,1717.7 525.81,1727.1 532.64,1736.5 521.59,1732.91 514.76,1742.32 514.76,1730.69 503.7,1727.1 514.76,1723.51" fill="#fff" stroke="#000" stroke-width="2.2" stroke-linejoin="miter" stroke-miterlimit="10"/>
</g>
<g>
<path d="M573.4,1535.4 H600.6 V1585.4 L612.2,1593.4 L623.8,1585.4 V1535.4 H651 V1596.4 L626.1,1615.1 V1693.4 H598.3 V1615.1 L573.4,1596.4 Z" fill="none" stroke="#000" stroke-width="2.1" stroke-dasharray="5.6 2.8"/>
<line x1="587.1" y1="1480.3" x2="587.1" y2="1584.1" stroke="#000" stroke-width="1.9"/>
<line x1="637.3" y1="1480.3" x2="637.3" y2="1584.1" stroke="#000" stroke-width="1.9"/>
<line x1="587.1" y1="1584.1" x2="612.2" y2="1608.8" stroke="#000" stroke-width="1.9"/>
<line x1="637.3" y1="1584.1" x2="612.2" y2="1608.8" stroke="#000" stroke-width="1.9"/>
<line x1="612.2" y1="1572.7" x2="612.2" y2="1608.8" stroke="#000" stroke-width="1.9"/>
<line x1="612.2" y1="1608.8" x2="612.2" y2="1719.9" stroke="#000" stroke-width="1.9"/>
<line x1="612.2" y1="1678.1" x2="644.2" y2="1678.1" stroke="#000" stroke-width="1.9"/>
<polygon points="587.1,1469.1 598.3,1480.3 587.1,1491.5 575.9,1480.3" fill="#C000C0" stroke="#000" stroke-width="2"/>
<polygon points="637.3,1469.1 648.5,1480.3 637.3,1491.5 626.1,1480.3" fill="#C000C0" stroke="#000" stroke-width="2"/>
<circle cx="587.1" cy="1514.8" r="10.8" fill="#FFFF00" stroke="#000" stroke-width="2"/>
<circle cx="637.3" cy="1514.8" r="10.8" fill="#FFFF00" stroke="#000" stroke-width="2"/>
<rect x="576" y="1538.1" width="22.2" height="22.2" fill="#0000FF" stroke="#000" stroke-width="2"/>
<rect x="626.2" y="1538.1" width="22.2" height="22.2" fill="#0000FF" stroke="#000" stroke-width="2"/>
<circle cx="587.1" cy="1584.1" r="10.8" fill="#00C832" stroke="#000" stroke-width="2"/>
<circle cx="637.3" cy="1584.1" r="10.8" fill="#00C832" stroke="#000" stroke-width="2"/>
<rect x="601.1" y="1561.6" width="22.2" height="22.2" fill="#00E5FF" stroke="#000" stroke-width="2"/>
<circle cx="612.2" cy="1608.8" r="10.8" fill="#00C832" stroke="#000" stroke-width="2"/>
<rect x="601.1" y="1632.3" width="22.2" height="22.2" fill="#0000FF" stroke="#000" stroke-width="2"/>
<rect x="601.1" y="1667" width="22.2" height="22.2" fill="#0000FF" stroke="#000" stroke-width="2"/>
<polygon points="642.2,1678.1 665.2,1667.2 665.2,1689" fill="#FF0000" stroke="#000" stroke-width="2"/>
<polygon points="608.46,1711.88 615.29,1721.29 626.34,1717.7 619.51,1727.1 626.34,1736.5 615.29,1732.91 608.46,1742.32 608.46,1730.69 597.4,1727.1 608.46,1723.51" fill="#FFC000" stroke="#000" stroke-width="2.2" stroke-linejoin="miter" stroke-miterlimit="10"/>
</g>
<rect x="289.3" y="1965.53" width="138.5" height="15.47" fill="#fff" stroke="#000" stroke-width="2.8"/>
<rect x="499.5" y="1825.7" width="138.4" height="155.3" fill="#A0A0A4" stroke="#000" stroke-width="2.8"/>
<g stroke="#000" stroke-width="2.9" fill="none" stroke-linecap="round">
<path d="M325,1965.41 H392.8" stroke-width="4.2"/>
<path d="M534.2,1815.2 H603.9 M568.4,1815.2 V1835.9 M534.2,1835.9 H603.9"/>
<path d="M357,1787 V1778.2 H570.5 V1787" stroke-width="3.1" stroke-linecap="butt"/>
</g>
<text x="463.6" y="1780.4" font-size="34" text-anchor="middle" font-weight="bold" fill="#000">**</text>
<g stroke="#000" fill="none">
<path d="M203.8,1743 H219.4 V1981" stroke-width="2.8"/>
<line x1="203.8" y1="1981" x2="710" y2="1981" stroke-width="3"/>
<line x1="203.8" y1="1921.5" x2="219.4" y2="1921.5" stroke-width="2.6"/>
<line x1="203.8" y1="1862" x2="219.4" y2="1862" stroke-width="2.6"/>
<line x1="203.8" y1="1802.5" x2="219.4" y2="1802.5" stroke-width="2.6"/>
<line x1="358" y1="1981" x2="358" y2="1996" stroke-width="3"/>
<line x1="568.4" y1="1981" x2="568.4" y2="1996" stroke-width="3"/>
</g>
<text x="199.3" y="1993.8" font-size="38.2" text-anchor="end" font-weight="normal" fill="#000">0.0</text>
<text x="199.3" y="1934.3" font-size="38.2" text-anchor="end" font-weight="normal" fill="#000">0.5</text>
<text x="199.3" y="1874.8" font-size="38.2" text-anchor="end" font-weight="normal" fill="#000">1.0</text>
<text x="199.3" y="1815.3" font-size="38.2" text-anchor="end" font-weight="normal" fill="#000">1.5</text>
<text x="199.3" y="1755.8" font-size="38.2" text-anchor="end" font-weight="normal" fill="#000">2.0</text>
<text transform="translate(58.2,1864.6) rotate(-90)" font-size="39.7" font-weight="bold" text-anchor="middle">SNA binding</text>
<text transform="translate(105.2,1865) rotate(-90)" font-size="39.7" font-weight="bold" text-anchor="middle">(Optical density)</text>
<text x="358.2" y="2035.3" font-size="37.9" text-anchor="middle" font-weight="normal" fill="#000" word-spacing="-3">Asialylated /</text>
<text x="358.8" y="2074.9" font-size="38.2" text-anchor="middle" font-weight="normal" fill="#000">unmodified</text>
<text x="568.2" y="2035.3" font-size="38.2" text-anchor="middle" font-weight="normal" fill="#000">Fab-</text>
<text x="567.8" y="2074.9" font-size="38.2" text-anchor="middle" font-weight="normal" fill="#000">sialylated</text>
<rect x="753.7" y="1554.7" width="244.8" height="399.2" fill="#fff" stroke="#000" stroke-width="3"/>
<polygon points="781.1,1572.1 795.8,1586.8 781.1,1601.5 766.4,1586.8" fill="#C000C0" stroke="#000" stroke-width="2"/>
<circle cx="781.1" cy="1644.5" r="14.8" fill="#FFFF00" stroke="#000" stroke-width="2"/>
<rect x="766.4" y="1710.8" width="29.4" height="29.4" fill="#00E5FF" stroke="#000" stroke-width="2"/>
<rect x="766.4" y="1792.2" width="29.4" height="29.4" fill="#0000FF" stroke="#000" stroke-width="2"/>
<circle cx="781.1" cy="1865" r="14.8" fill="#00C832" stroke="#000" stroke-width="2"/>
<polygon points="781.1,1908 795.3,1937.4 766.9,1937.4" fill="#FF0000" stroke="#000" stroke-width="2"/>
<text x="816.2" y="1600.3" font-size="38.2" text-anchor="start" font-weight="normal" fill="#000">Sialic acid</text>
<text x="816.2" y="1658.3" font-size="38.2" text-anchor="start" font-weight="normal" fill="#000">Galactose</text>
<text x="816.2" y="1716.8" font-size="38.2" text-anchor="start" font-weight="normal" fill="#000">Bisecting</text>
<text x="816.2" y="1762.3" font-size="38.2" text-anchor="start" font-weight="normal" fill="#000">GlcNAc</text>
<text x="816.2" y="1820.8" font-size="38.2" text-anchor="start" font-weight="normal" fill="#000">GlcNAc</text>
<text x="816.2" y="1879.3" font-size="38.2" text-anchor="start" font-weight="normal" fill="#000">Mannose</text>
<text x="816.2" y="1936.5" font-size="38.2" text-anchor="start" font-weight="normal" fill="#000">Fucose</text>
</g>
</svg></body></html>
